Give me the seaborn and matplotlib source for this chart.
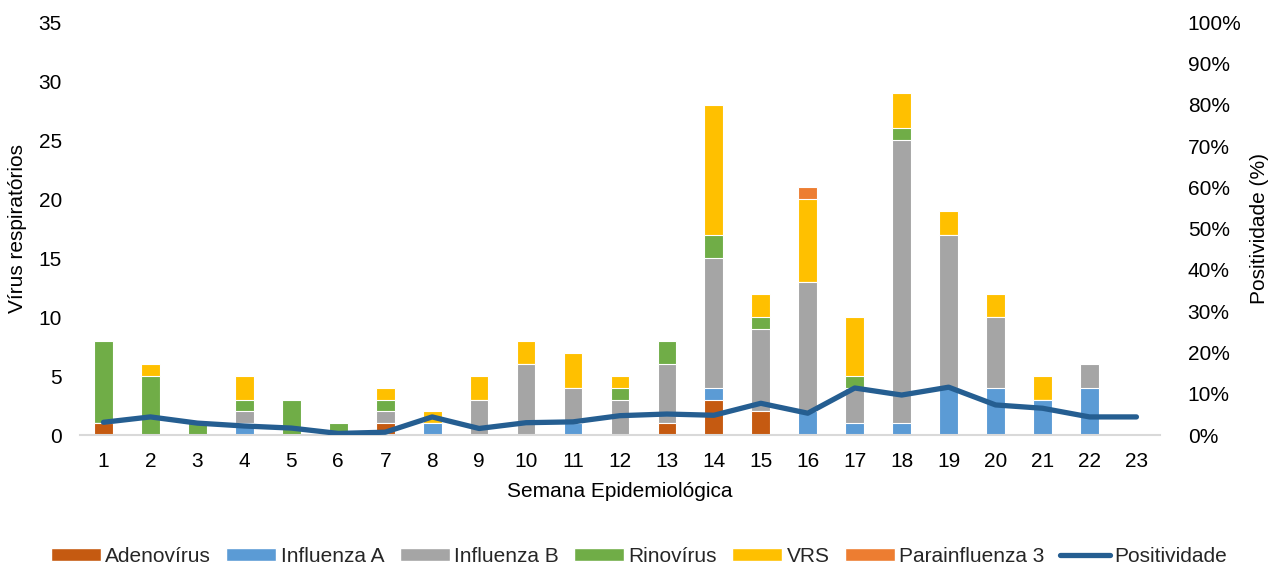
import matplotlib
matplotlib.use("Agg")
import matplotlib.pyplot as plt
import matplotlib.ticker as mticker
from matplotlib.patches import Patch
from matplotlib.lines import Line2D
import seaborn as sns
import numpy as np
import pandas as pd

semanas = list(range(1, 24))
adenovirus = [1, 0, 0, 0, 0, 0, 1, 0, 0, 0, 0, 0, 1, 3, 2, 0, 0, 0, 0, 0, 0, 0, 0]
influenza_a = [0, 0, 0, 1, 0, 0, 0, 1, 0, 0, 1, 0, 0, 1, 0, 2, 1, 1, 4, 4, 3, 4, 0]
influenza_b = [0, 0, 0, 1, 0, 0, 1, 0, 3, 6, 3, 3, 5, 11, 7, 11, 3, 24, 13, 6, 0, 2, 0]
rinovirus = [7, 5, 1, 1, 3, 1, 1, 0, 0, 0, 0, 1, 2, 2, 1, 0, 1, 1, 0, 0, 0, 0, 0]
vrs = [0, 1, 0, 2, 0, 0, 1, 1, 2, 2, 3, 1, 0, 11, 2, 7, 5, 3, 2, 2, 2, 0, 0]
parainfluenza3 = [0, 0, 0, 0, 0, 0, 0, 0, 0, 0, 0, 0, 0, 0, 0, 1, 0, 0, 0, 0, 0, 0, 0]
positividade = [3.1, 4.4, 2.9, 2.2, 1.7, 0.4, 0.7, 4.4, 1.6, 3.0, 3.2, 4.7, 5.1, 4.8,
                7.7, 5.3, 11.4, 9.7, 11.6, 7.3, 6.5, 4.4, 4.4]

series = {
    "Adenovírus": adenovirus,
    "Influenza A": influenza_a,
    "Influenza B": influenza_b,
    "Rinovírus": rinovirus,
    "VRS": vrs,
    "Parainfluenza 3": parainfluenza3,
}
cores = ["#C55A11", "#5B9BD5", "#A5A5A5", "#70AD47", "#FFC000", "#ED7D31"]
cor_linha = "#255E91"

sns.set_theme(style="white")
plt.rcParams["font.family"] = ["Liberation Sans", "DejaVu Sans"]
fs = 15

df = pd.DataFrame(series)
df["Semana"] = [str(s) for s in semanas]
cumul = df[list(series)].cumsum(axis=1)

fig = plt.figure(figsize=(12.78, 5.68), dpi=100)
ax = fig.add_axes([0.0626, 0.234, 0.845, 0.727])

# stacked bars: draw cumulative totals from top layer down
nomes = list(series)
for nome, cor in reversed(list(zip(nomes, cores))):
    sns.barplot(x=df["Semana"], y=cumul[nome], color=cor, width=0.4,
                edgecolor="white", linewidth=0.8, saturation=1, ax=ax)

ax.set_ylim(0, 35)
ax.set_yticks(range(0, 36, 5))
ax.set_xlim(-0.5, 22.5)
ax.set_xlabel("Semana Epidemiológica", fontsize=fs, color="#000000", labelpad=8)
ax.set_ylabel("Vírus respiratórios", fontsize=fs, color="#000000", labelpad=8)
ax.tick_params(axis="x", labelsize=fs, colors="#000000", length=0, pad=12)
ax.tick_params(axis="y", labelsize=fs, colors="#000000", length=0, pad=13)
for s in ["top", "right", "left"]:
    ax.spines[s].set_visible(False)
ax.spines["bottom"].set_color("#D9D9D9")
ax.spines["bottom"].set_linewidth(1.5)

ax2 = ax.twinx()
sns.lineplot(x=np.arange(len(semanas)), y=positividade, color=cor_linha,
             linewidth=3.8, ax=ax2)
ax2.set_ylim(0, 100)
ax2.set_yticks(range(0, 101, 10))
ax2.yaxis.set_major_formatter(mticker.FuncFormatter(lambda v, p: f"{v:.0f}%"))
ax2.set_ylabel("Positividade (%)", fontsize=fs, color="#000000", labelpad=6)
ax2.tick_params(axis="y", labelsize=fs, colors="#000000", length=0, pad=20)
for s in ["top", "right", "left", "bottom"]:
    ax2.spines[s].set_visible(False)
ax2.grid(False)

handles = [Patch(facecolor=c, label=n) for n, c in zip(nomes, cores)]
handles.append(Line2D([0], [0], color=cor_linha, linewidth=3.8, label="Positividade"))
fig.legend(handles=handles, loc="center", bbox_to_anchor=(0.5, 0.02), ncol=7,
           frameon=False, fontsize=fs, handlelength=2.4, handleheight=0.55,
           handletextpad=0.2, columnspacing=0.75)

fig.savefig("out.png", dpi=100)
